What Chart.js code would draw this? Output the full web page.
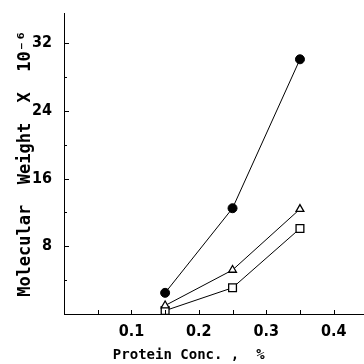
<!DOCTYPE html>
<html>
<head>
<meta charset="utf-8">
<script src="https://cdn.jsdelivr.net/npm/chart.js@4.4.0/dist/chart.umd.min.js"></script>
<style>
html,body{margin:0;padding:0;background:#fff;}
#wrap{width:364px;height:364px;}
</style>
</head>
<body>
<div id="wrap"><canvas id="grafica"></canvas></div>
<script>
// concentracion de proteina (%)
let conc=[0.15,0.25,0.35];
// peso molecular x 10^-6
let circulos=[2.5,12.5,30.1];
let triangulos=[1.0,5.2,12.4];
let cuadrados=[0.4,3.1,10.1];

let ticksX=[0.05,0.1,0.15,0.2,0.25,0.3,0.35,0.4];
let ticksY=[4,8,12,16,20,24,28,32];

function puntos(ys){
    let out=[];
    for(let i=0;i<conc.length;i++){
        out.push({x:conc[i],y:ys[i]});
    }
    return out;
}

// marcas pequeñas hacia dentro de los ejes
let marcas={
    id:'marcas',
    afterDraw(chart){
        let ctx=chart.ctx;
        let sx=chart.scales.x, sy=chart.scales.y;
        let a=chart.chartArea;
        ctx.save();
        ctx.strokeStyle='#000';
        ctx.lineWidth=1;
        ctx.beginPath();
        for(let v of ticksX){
            let px=Math.round(sx.getPixelForValue(v))+0.5;
            ctx.moveTo(px,a.bottom);
            ctx.lineTo(px,a.bottom-4);
        }
        for(let v of ticksY){
            let py=Math.round(sy.getPixelForValue(v))+0.5;
            ctx.moveTo(a.left,py);
            ctx.lineTo(a.left+(v%8==0?5:3),py);
        }
        ctx.stroke();
        ctx.restore();
    }
};

let fuenteTick={family:'"Liberation Sans Narrow", "DejaVu Sans Condensed", "DejaVu Sans"',size:16,weight:'bold'};
let fuenteTitulo={family:'"DejaVu Sans Mono"',weight:'bold'};

new Chart("grafica",{
    type:'line',
    data:{
        datasets:[{
            data:puntos(circulos),
            borderColor:'#000',borderWidth:1,
            pointStyle:'circle',pointRadius:4.5,
            pointBackgroundColor:'#000',pointBorderColor:'#000'
        },{
            data:puntos(triangulos),
            borderColor:'#000',borderWidth:1,
            pointStyle:'triangle',pointRadius:4.5,pointBorderWidth:1.3,
            pointBackgroundColor:'#fff',pointBorderColor:'#000'
        },{
            data:puntos(cuadrados),
            borderColor:'#000',borderWidth:1,
            pointStyle:'rect',pointRadius:5.5,pointBorderWidth:1.3,
            pointBackgroundColor:'#fff',pointBorderColor:'#000'
        }]
    },
    options:{
        responsive:true,
        maintainAspectRatio:false,
        animation:false,
        layout:{autoPadding:false,padding:{top:12,right:0,left:0,bottom:0}},
        plugins:{legend:{display:false},tooltip:{enabled:false}},
        scales:{
            x:{
                type:'linear',min:0,max:0.445,
                grid:{display:false},
                border:{display:true,color:'#000',width:1},
                ticks:{
                    stepSize:0.1,includeBounds:false,color:'#000',font:fuenteTick,padding:0,
                    maxRotation:0,autoSkip:false,
                    callback:function(v){
                        let r=Math.round(v*100);
                        if(r>0 && r%10==0 && r<=40) return (r/100).toFixed(1);
                        return '';
                    }
                },
                title:{
                    display:true,
                    text:'Protein Conc. ,  %      ',
                    color:'#000',
                    font:Object.assign({size:14},fuenteTitulo),
                    padding:{top:0,bottom:0}
                },
                afterFit(s){s.height=50;}
            },
            y:{
                type:'linear',min:0,max:35.5,
                grid:{display:false},
                border:{display:true,color:'#000',width:1},
                ticks:{
                    stepSize:8,includeBounds:false,color:'#000',font:fuenteTick,padding:4,
                    callback:function(v){
                        if(v>0 && v%8==0) return v;
                        return '';
                    }
                },
                title:{
                    display:true,
                    text:'Molecular  Weight  X  10⁻⁶',
                    color:'#000',
                    font:Object.assign({size:17},fuenteTitulo),
                    padding:{top:15,bottom:0}
                },
                afterFit(s){s.width=64;}
            }
        }
    },
    plugins:[marcas]
});
</script>
</body>
</html>
